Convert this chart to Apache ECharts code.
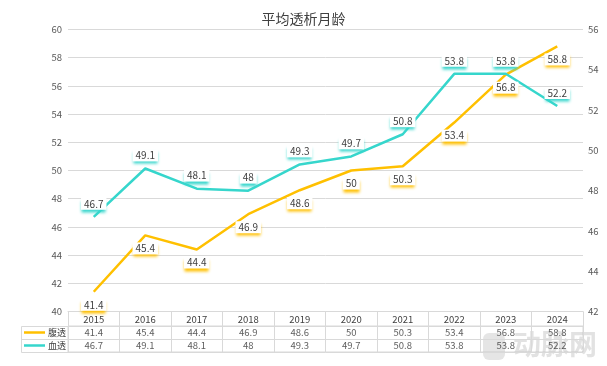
<!DOCTYPE html>
<html>
<head>
<meta charset="utf-8">
<script src="https://cdn.jsdelivr.net/npm/echarts@6/dist/echarts.min.js"></script>
<style>
html,body{margin:0;padding:0;background:#fff;}
#c{width:607px;height:366px;}
</style>
</head>
<body>
<div id="c"></div>
<script>
const title = '平均透析月龄';
const years = ['2015','2016','2017','2018','2019','2020','2021','2022','2023','2024'];
const seriesNames = ['腹透','血透'];
const pdValues = [41.4,45.4,44.4,46.9,48.6,50,50.3,53.4,56.8,58.8];
const hdValues = [46.7,49.1,48.1,48,49.3,49.7,50.8,53.8,53.8,52.2];
const leftTicks = {min:40,max:60,interval:2};
const rightTicks = {min:42,max:56,interval:2};

const COLORS = ['#FFC000','#36D6CC'];
const GRID = '#d9d9d9';
const TXT = '#404040';
const FONT = '"Noto Sans CJK SC","Noto Sans",sans-serif';

// layout constants (styles, not data)
const PLOT_L = 68, PLOT_R = 24, TABLE_L = 21, TABLE_TOP = 326, ROW_H = 13;

const tableData = [];
years.forEach((y,i)=>{
  tableData.push([i,0,pdValues[i]]);
  tableData.push([i,1,hdValues[i]]);
});

function dataLabel(color,pos){
  return {
    show:true, position:pos, distance:7,
    color:TXT, fontSize:10, fontFamily:FONT,
    backgroundColor:'#fff', padding:[1,3,1,3],
    shadowColor:color, shadowBlur:3, shadowOffsetY:3
  };
}

const chart = echarts.init(document.getElementById('c'),null,{renderer:'canvas'});
chart.setOption({
  animation:false,
  backgroundColor:'#fff',
  title:{text:title,left:'center',top:7,textStyle:{fontSize:14,fontWeight:'normal',color:TXT,fontFamily:FONT}},
  grid:[
    {left:PLOT_L,right:PLOT_R,top:29.5,bottom:366-311.5},
    {left:PLOT_L,right:PLOT_R,top:TABLE_TOP,height:ROW_H*2,show:true,borderColor:GRID,borderWidth:1}
  ],
  xAxis:[
    {type:'category',data:years,gridIndex:0,
      axisLine:{show:true,lineStyle:{color:GRID}},
      axisTick:{show:true,length:TABLE_TOP-311.5,lineStyle:{color:GRID}},
      axisLabel:{margin:3,fontSize:9.5,color:TXT,fontFamily:FONT,interval:0}},
    {type:'category',data:years,gridIndex:1,
      axisLine:{show:false},axisTick:{show:false},axisLabel:{show:false},
      splitLine:{show:true,interval:0,lineStyle:{color:GRID}}}
  ],
  yAxis:[
    {type:'value',gridIndex:0,min:leftTicks.min,max:leftTicks.max,interval:leftTicks.interval,
      axisLine:{show:false},axisTick:{show:false},
      axisLabel:{margin:6,fontSize:9.5,color:'#595959',fontFamily:FONT},
      splitLine:{lineStyle:{color:GRID}}},
    {type:'value',gridIndex:0,position:'right',min:rightTicks.min,max:rightTicks.max,interval:rightTicks.interval,
      axisLine:{show:false},axisTick:{show:false},
      axisLabel:{margin:5,fontSize:9.5,color:'#595959',fontFamily:FONT},
      splitLine:{show:false}},
    {type:'category',gridIndex:1,data:seriesNames,inverse:true,
      axisLine:{show:false},axisTick:{show:false},
      splitLine:{show:true,interval:0,lineStyle:{color:GRID}},
      axisLabel:{interval:0,hideOverlap:false,margin:2,verticalAlign:'middle',
        color:TXT,fontSize:9,fontFamily:FONT,
        formatter:(v,i)=>'{'+(i===0?'la':'lb')+'|}{t|'+v+'}',
        rich:{
          la:{width:21,height:2.5,backgroundColor:COLORS[0]},
          lb:{width:21,height:2.5,backgroundColor:COLORS[1]},
          t:{fontSize:9,color:TXT,fontFamily:FONT,padding:[0,0,0,3]}
        }}}
  ],
  series:[
    {name:seriesNames[0],type:'line',xAxisIndex:0,yAxisIndex:0,data:pdValues,
      symbol:'circle',symbolSize:0.1,showSymbol:true,
      lineStyle:{color:COLORS[0],width:2.5},itemStyle:{color:COLORS[0]},
      label:dataLabel(COLORS[0],'bottom'),z:3},
    {name:seriesNames[1],type:'line',xAxisIndex:0,yAxisIndex:1,data:hdValues,
      symbol:'circle',symbolSize:0.1,showSymbol:true,
      lineStyle:{color:COLORS[1],width:2.5},itemStyle:{color:COLORS[1]},
      label:dataLabel(COLORS[1],'top'),z:3},
    {type:'scatter',xAxisIndex:1,yAxisIndex:2,data:tableData,symbolSize:1,silent:true,
      itemStyle:{color:'rgba(0,0,0,0)'},
      label:{show:true,position:'inside',formatter:p=>p.value[2],color:'#333',fontSize:9.5,fontFamily:FONT}}
  ],
  graphic:[
    {type:'rect',silent:true,shape:{x:TABLE_L+0.5,y:TABLE_TOP+0.5,width:PLOT_L-TABLE_L,height:ROW_H*2},
      style:{fill:'none',stroke:GRID,lineWidth:1}},
    {type:'line',silent:true,shape:{x1:TABLE_L,y1:TABLE_TOP+ROW_H+0.5,x2:PLOT_L,y2:TABLE_TOP+ROW_H+0.5},
      style:{stroke:GRID,lineWidth:1}},
    {type:'group',right:10,bottom:6,silent:true,children:[
      {type:'rect',shape:{x:0,y:5,width:22,height:27,r:6},style:{fill:'rgba(190,190,190,0.4)'}},
      {type:'text',x:30,y:2,style:{text:'动脉网',fontSize:28,fontWeight:'bold',fill:'rgba(190,190,190,0.45)',fontFamily:FONT}}
    ]}
  ]
});
</script>
</body>
</html>
